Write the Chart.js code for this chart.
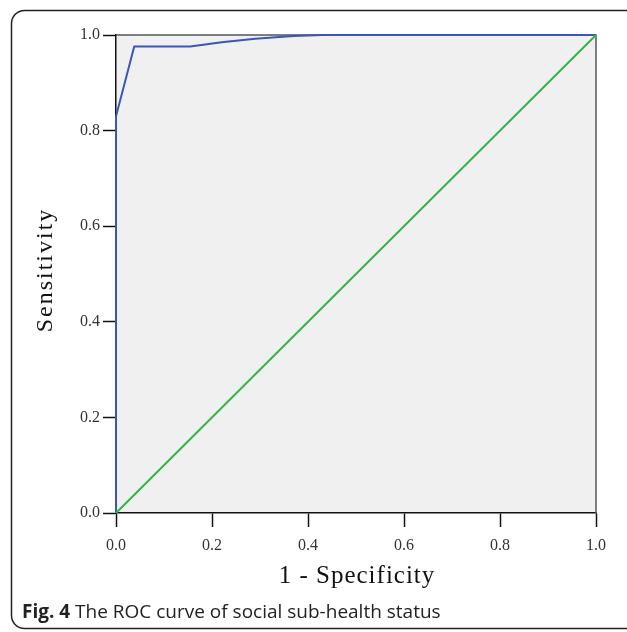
<!DOCTYPE html>
<html>
<head>
<meta charset="utf-8">
<script src="https://cdn.jsdelivr.net/npm/chart.js@4.4.0/dist/chart.umd.min.js"></script>
<style>
  html, body { margin: 0; padding: 0; background: #fff; }
  #roc { position: absolute; left: 0; top: 0; }
</style>
</head>
<body>
<canvas id="roc" width="627" height="632"></canvas>
<script>
// ROC curve
const rocX = [0, 0, 0, 0.038, 0.155, 0.22, 0.29, 0.37, 0.43, 1.0];
const rocY = [0, 0.64, 0.83, 0.976, 0.976, 0.985, 0.992, 0.998, 1.0, 1.0];
// reference (chance) line
const refX = [0, 1];
const refY = [0, 1];
const tickValues = [0, 0.2, 0.4, 0.6, 0.8, 1.0];

const xTitle = '1 - Specificity';
const yTitle = 'Sensitivity';
const captionBold = 'Fig. 4';
const captionText = ' The ROC curve of social sub-health status';

function toPoints(xs, ys) {
  return xs.map((x, i) => ({ x: x, y: ys[i] }));
}

const plotFrame = {
  id: 'plotFrame',
  beforeDraw(chart) {
    const { ctx, chartArea: a } = chart;
    ctx.save();
    ctx.fillStyle = '#f0f0f0';
    ctx.fillRect(a.left, a.top, a.right - a.left, a.bottom - a.top);
    ctx.restore();
  },
  beforeDatasetsDraw(chart) {
    const { ctx, chartArea: a } = chart;
    ctx.save();
    ctx.strokeStyle = '#555';
    ctx.lineWidth = 1.5;
    ctx.beginPath();
    ctx.moveTo(a.left, a.top);
    ctx.lineTo(a.right, a.top);
    ctx.lineTo(a.right, a.bottom);
    ctx.stroke();
    ctx.restore();
  },
  afterDraw(chart) {
    const { ctx, chartArea: a } = chart;
    ctx.save();
    // outer rounded frame
    ctx.strokeStyle = '#222';
    ctx.lineWidth = 1.5;
    ctx.beginPath();
    ctx.roundRect(11.5, 10.5, 640, 618, 13);
    ctx.stroke();

    // axis titles
    ctx.fillStyle = '#111';
    ctx.textAlign = 'center';
    ctx.textBaseline = 'middle';
    ctx.font = '25px "Liberation Serif", "Times New Roman", serif';
    ctx.letterSpacing = '1px';
    ctx.fillText(xTitle, (a.left + a.right) / 2 + 1, 576);
    ctx.save();
    ctx.translate(46, 270);
    ctx.rotate(-Math.PI / 2);
    ctx.font = '24px "Liberation Serif", "Times New Roman", serif';
    ctx.letterSpacing = '2px';
    ctx.fillText(yTitle, 0, 0);
    ctx.restore();

    // caption
    ctx.letterSpacing = '0px';
    ctx.textAlign = 'left';
    ctx.textBaseline = 'alphabetic';
    ctx.fillStyle = '#222';
    ctx.font = 'bold 19px "Open Sans", sans-serif';
    ctx.fillText(captionBold, 22, 618);
    const w = ctx.measureText(captionBold).width;
    ctx.font = '19px "Open Sans", sans-serif';
    ctx.fillText(captionText, 22 + w, 618);
    ctx.restore();
  }
};

const tickFont = { family: '"Liberation Serif", "Times New Roman", serif', size: 16 };

new Chart(document.getElementById('roc'), {
  type: 'scatter',
  data: {
    datasets: [
      {
        label: 'Reference',
        data: toPoints(refX, refY),
        showLine: true,
        borderColor: '#33b54a',
        borderWidth: 2,
        pointRadius: 0,
        tension: 0,
        clip: 3
      },
      {
        label: 'ROC',
        data: toPoints(rocX, rocY),
        showLine: true,
        borderColor: '#3d55b4',
        borderWidth: 2,
        pointRadius: 0,
        tension: 0,
        clip: 3
      }
    ]
  },
  options: {
    responsive: false,
    animation: false,
    layout: { padding: { left: 0, top: 35, right: 31, bottom: 0 } },
    plugins: {
      legend: { display: false },
      tooltip: { enabled: false }
    },
    scales: {
      x: {
        type: 'linear',
        min: 0,
        max: 1,
        afterFit: function (scale) { scale.height = 119; },
        afterBuildTicks: function (scale) { scale.ticks = tickValues.map(v => ({ value: v })); },
        ticks: {
          font: tickFont,
          color: '#333',
          padding: 9,
          maxRotation: 0,
          callback: v => v.toFixed(1)
        },
        grid: {
          drawOnChartArea: false,
          drawTicks: true,
          tickLength: 14,
          tickWidth: 1.5,
          color: '#111'
        },
        border: { display: true, color: '#111', width: 1.5 }
      },
      y: {
        type: 'linear',
        min: 0,
        max: 1,
        afterFit: function (scale) { scale.width = 116; },
        afterBuildTicks: function (scale) { scale.ticks = tickValues.map(v => ({ value: v })); },
        ticks: {
          font: tickFont,
          color: '#333',
          padding: 3,
          callback: v => v.toFixed(1)
        },
        grid: {
          drawOnChartArea: false,
          drawTicks: true,
          tickLength: 13,
          tickWidth: 1.5,
          color: '#111'
        },
        border: { display: true, color: '#111', width: 1.5 }
      }
    }
  },
  plugins: [plotFrame]
});
</script>
</body>
</html>
